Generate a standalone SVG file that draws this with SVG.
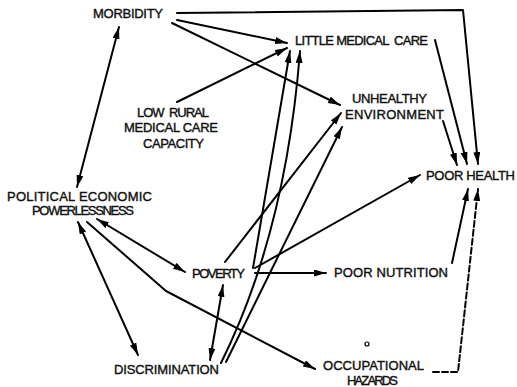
<svg xmlns="http://www.w3.org/2000/svg" width="517" height="387" viewBox="0 0 517 387">
  <defs>
    <marker id="arr" markerUnits="userSpaceOnUse" markerWidth="13" markerHeight="8" refX="12" refY="3.5" orient="auto-start-reverse">
      <path d="M0,0 L12,3.5 L0,7 z" fill="#000"/>
    </marker>
    <style>
      .lbl { font-family: "Liberation Sans", Arial, sans-serif; font-size: 13px; fill: #111; stroke: #111; stroke-width: 0.4; white-space: pre; }
      .ln { fill: none; stroke: #000; stroke-width: 2; stroke-linecap: round; stroke-linejoin: round; }
      .a { marker-end: url(#arr); }
      .aa { marker-start: url(#arr); marker-end: url(#arr); }
      .dash { stroke-dasharray: 6 3; }
    </style>
  </defs>
  <rect width="517" height="387" fill="#fff"/>

  <!-- connectors -->
  <g id="connectors">
    <polyline class="ln a" points="177,13 463,10 478,164"/>
    <line class="ln a" x1="177" y1="20" x2="287" y2="43"/>
    <line class="ln a" x1="172" y1="23" x2="340" y2="105"/>
    <line class="ln a" x1="177" y1="102" x2="287" y2="48"/>
    <line class="ln aa" x1="119" y1="27" x2="77" y2="187"/>
    <line class="ln aa" x1="97" y1="219" x2="185" y2="272"/>
    <line class="ln aa" x1="78" y1="222" x2="138" y2="355"/>
    <polyline class="ln a" points="87,222 166,291 315,369"/>
    <line class="ln aa" x1="210" y1="360" x2="223" y2="285"/>
    <line class="ln a" x1="253" y1="268" x2="290" y2="51"/>
    <path class="ln a" d="M221,363 Q286,232 300,51"/>
    <line class="ln a" x1="225" y1="262" x2="341" y2="113"/>
    <line class="ln a" x1="226" y1="362" x2="342" y2="127"/>
    <line class="ln a" x1="255" y1="268" x2="420" y2="175"/>
    <line class="ln a" x1="255" y1="273" x2="326" y2="273"/>
    <line class="ln a" x1="452" y1="263" x2="468" y2="189"/>
    <polyline class="ln a dash" points="433,372 458,372 478,189"/>
    <line class="ln a" x1="443" y1="121" x2="457" y2="165"/>
    <line class="ln a" x1="435" y1="40" x2="467" y2="164"/>
  </g>

  <g id="morbidity"><text class="lbl" x="93" y="18" textLength="70">MORBIDITY</text></g>
  <g id="little-medical-care"><text class="lbl" x="295" y="45" textLength="133" xml:space="preserve">LITTLE MEDICAL  CARE</text></g>
  <g id="low-rural-capacity">
    <text class="lbl" x="137" y="117" textLength="72" xml:space="preserve">LOW  RURAL</text>
    <text class="lbl" x="124" y="132" textLength="94">MEDICAL CARE</text>
    <text class="lbl" x="143" y="148" textLength="61">CAPACITY</text>
  </g>
  <g id="unhealthy-environment">
    <text class="lbl" x="352" y="103" textLength="75">UNHEALTHY</text>
    <text class="lbl" x="345" y="119" textLength="99">ENVIRONMENT</text>
  </g>
  <g id="poor-health"><text class="lbl" x="426" y="180" textLength="89">POOR HEALTH</text></g>
  <g id="powerlessness">
    <text class="lbl" x="7" y="201" textLength="145">POLITICAL ECONOMIC</text>
    <text class="lbl" x="32" y="215" textLength="102">POWERLESSNESS</text>
  </g>
  <g id="poverty"><text class="lbl" x="192" y="278" textLength="53">POVERTY</text></g>
  <g id="poor-nutrition"><text class="lbl" x="334" y="277" textLength="114">POOR NUTRITION</text></g>
  <g id="discrimination"><text class="lbl" x="114" y="374" textLength="105">DISCRIMINATION</text></g>
  <g id="occupational-hazards">
    <text class="lbl" x="323" y="370" textLength="101">OCCUPATIONAL</text>
    <text class="lbl" x="347" y="385" textLength="51">HAZARDS</text>
    <circle cx="367" cy="344" r="2" fill="none" stroke="#000" stroke-width="1.2"/>
  </g>
</svg>
